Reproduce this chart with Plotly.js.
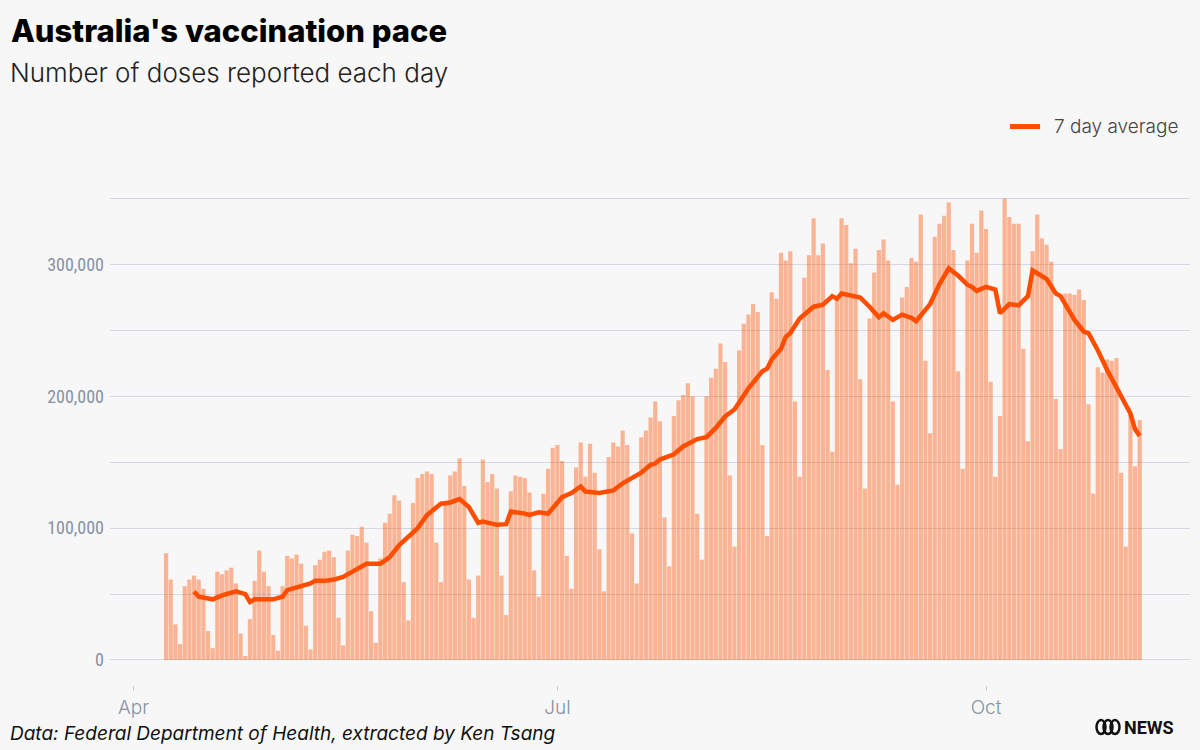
<!DOCTYPE html>
<html>
<head>
<meta charset="utf-8">
<script src="https://cdn.plot.ly/plotly-3.0.1.min.js"></script>
<style>
html,body{margin:0;padding:0;background:#f7f7f7;}
#chart{width:1200px;height:750px;}
</style>
</head>
<body>
<div id="chart"></div>
<script>
// First reported day of the series (index 0)
const firstDay = [2021, 3, 8]; // 8 April 2021 (month is 0-based)

// Daily doses reported, one per day from 8 April 2021
const dailyDoses = [
  81000, 61000, 27000, 12000, 56000, 61000, 64000, 61000, 54000, 22000,
  9000, 67000, 65000, 68000, 70000, 58000, 20000, 3000, 31000, 60000,
  83000, 67000, 56000, 19000, 7000, 56000, 79000, 77000, 80000, 73000,
  26000, 8000, 72000, 76000, 82000, 83000, 78000, 32000, 11000, 83000,
  95000, 94000, 101000, 89000, 37000, 13000, 77000, 104000, 111000, 125000,
  121000, 59000, 30000, 119000, 138000, 141000, 143000, 141000, 89000, 59000,
  120000, 140000, 143000, 153000, 132000, 61000, 32000, 64000, 152000, 135000,
  141000, 130000, 64000, 34000, 128000, 140000, 139000, 138000, 127000, 68000,
  48000, 126000, 145000, 161000, 163000, 151000, 79000, 54000, 146000, 165000,
  139000, 164000, 142000, 84000, 52000, 154000, 165000, 162000, 174000, 163000,
  96000, 58000, 169000, 174000, 184000, 196000, 181000, 108000, 71000, 185000,
  197000, 201000, 210000, 200000, 111000, 76000, 200000, 214000, 221000, 240000,
  226000, 140000, 86000, 235000, 255000, 262000, 270000, 264000, 163000, 94000,
  279000, 274000, 309000, 303000, 310000, 196000, 139000, 290000, 307000, 335000,
  307000, 316000, 220000, 158000, 275000, 335000, 330000, 301000, 312000, 213000,
  130000, 259000, 294000, 311000, 319000, 303000, 196000, 133000, 275000, 283000,
  305000, 302000, 338000, 227000, 172000, 321000, 331000, 337000, 347000, 311000,
  219000, 145000, 303000, 331000, 309000, 341000, 327000, 211000, 139000, 185000,
  350000, 336000, 331000, 331000, 236000, 166000, 310000, 338000, 320000, 315000,
  302000, 198000, 160000, 278000, 278000, 277000, 281000, 273000, 194000, 126000,
  222000, 218000, 228000, 227000, 229000, 142000, 86000, 187000, 147000, 182000
];

// 7 day average at these day indexes
const avgDayIndex = [
  6, 7, 10, 12, 15, 17, 18, 19, 23, 25, 26, 29, 31, 32, 34, 36, 38, 40, 43, 46,
  48, 50, 53, 54, 56, 59, 61, 63, 65, 67, 68, 71, 73, 74, 77, 78, 80, 82, 85, 87,
  89, 90, 93, 96, 98, 100, 102, 104, 105, 106, 109, 111, 114, 116, 118, 120, 122, 125, 128, 129,
  130, 132, 133, 134, 136, 139, 141, 143, 144, 145, 149, 151, 153, 154, 156, 158, 160, 161, 164, 166,
  168, 170, 172, 173, 174, 176, 178, 179, 181, 183, 185, 186, 189, 191, 192, 195, 197, 198, 200, 202,
  205, 207, 208, 209
];
const avgValues = [
  52000, 48000, 46000, 49000, 52000, 50000, 44000, 46000, 46000, 48000, 53000, 56000, 58000, 60000, 60000, 61000, 63000, 67000, 73000, 73000,
  78000, 87000, 97000, 100000, 110000, 118500, 119500, 122000, 116000, 104000, 105000, 102500, 103000, 112600, 111000, 110000, 112000, 111000, 123500, 126600,
  131600, 127800, 126600, 128600, 134000, 138000, 142000, 148000, 149000, 152000, 156000, 162000, 167600, 169000, 176000, 184700, 190000, 206000, 219000, 221000,
  228000, 236000, 245000, 248000, 259000, 268000, 269500, 276000, 274000, 278000, 275000, 268000, 260000, 263000, 258000, 262000, 259500, 257000, 270000, 285000,
  297000, 291600, 284700, 283000, 280000, 283000, 281000, 263000, 270000, 269000, 276000, 295600, 289000, 278000, 276000, 258000, 249000, 248000, 235000, 220000,
  200000, 187000, 175000, 170000
];

// Axis ticks
const yTickVals = [0, 100000, 200000, 300000];
const yTickText = ['0', '100,000', '200,000', '300,000'];
const xTickVals = ['2021-04-01', '2021-07-01', '2021-10-01'];
const xTickText = ['Apr', 'Jul', 'Oct'];
const legendLabel = '7 day average';

function dayToDate(i) {
  const d = new Date(Date.UTC(firstDay[0], firstDay[1], firstDay[2] + i));
  return d.toISOString().slice(0, 10);
}
const barDates = dailyDoses.map((_, i) => dayToDate(i));
const avgDates = avgDayIndex.map(dayToDate);

const W = 1200, H = 750;
const L = 110, R = 10, T = 192.4, B = 65;
const pw = W - L - R, ph = H - T - B;
const px = x => (x - L) / pw;
const py = y => (H - B - y) / ph;

const axisGrey = '#8791a5';
const gridCol = '#d2d9e2';
const lineCol = '#ff4d00';
const narrow = "'Liberation Sans Narrow', 'Roboto Condensed', 'Arial Narrow', 'DejaVu Sans Condensed', sans-serif";

const traces = [
  {
    type: 'bar',
    x: barDates,
    y: dailyDoses,
    marker: {color: 'rgba(255,80,0,0.4)', line: {width: 0}},
    showlegend: false,
    hoverinfo: 'x+y'
  },
  {
    type: 'scatter',
    mode: 'lines',
    name: legendLabel,
    x: avgDates,
    y: avgValues,
    line: {color: lineCol, width: 4.5, shape: 'linear'},
    showlegend: false
  }
];

const logoShapes = [1101, 1108, 1115].map(cx => ({
  type: 'circle', xref: 'paper', yref: 'paper',
  x0: px(cx - 4.5), x1: px(cx + 4.5), y0: py(734), y1: py(720),
  line: {color: '#111', width: 2.5}
}));
const legendShape = {
  type: 'line', xref: 'paper', yref: 'paper',
  x0: px(1010), x1: px(1040), y0: py(127), y1: py(127),
  line: {color: lineCol, width: 5}
};

const layout = {
  width: W, height: H,
  paper_bgcolor: '#f7f7f7',
  plot_bgcolor: '#f7f7f7',
  margin: {l: L, r: R, t: T, b: B, pad: 0},
  bargap: 0.1,
  showlegend: false,
  font: {family: 'Inter, Roboto, sans-serif', color: axisGrey},
  xaxis: {
    type: 'date',
    range: ['2021-03-26 23:00', '2021-11-13 19:00'],
    tickvals: xTickVals,
    ticktext: xTickText,
    ticks: 'outside',
    ticklen: 5,
    tickcolor: '#c5ccd6',
    tickfont: {size: 19, color: axisGrey, family: 'Inter, sans-serif', weight: 300},
    showgrid: false,
    showline: false,
    zeroline: false
  },
  yaxis: {
    range: [-19000, 355000],
    tickvals: yTickVals,
    ticktext: yTickText,
    ticks: '',
    ticklabelstandoff: 5,
    tickfont: {size: 18, color: axisGrey, family: narrow},
    showgrid: true,
    gridcolor: gridCol,
    gridwidth: 1,
    zeroline: true,
    zerolinecolor: gridCol,
    zerolinewidth: 1,
    showline: false,
    minor: {tick0: 0, dtick: 50000, showgrid: true, gridcolor: gridCol, gridwidth: 1, ticks: ''}
  },
  shapes: logoShapes.concat([legendShape]),
  annotations: [
    {
      xref: 'paper', yref: 'paper', x: px(9), y: py(31), xanchor: 'left', yanchor: 'middle',
      text: "Australia's vaccination pace", showarrow: false,
      font: {size: 31, color: '#000', family: 'Inter, sans-serif', weight: 800}
    },
    {
      xref: 'paper', yref: 'paper', x: px(8), y: py(73), xanchor: 'left', yanchor: 'middle',
      text: 'Number of doses reported each day', showarrow: false,
      font: {size: 26, color: '#222', family: 'Inter, sans-serif', weight: 300}
    },
    {
      xref: 'paper', yref: 'paper', x: px(1052), y: py(127), xanchor: 'left', yanchor: 'middle',
      text: legendLabel, showarrow: false,
      font: {size: 19, color: '#444', family: 'Inter, sans-serif', weight: 300}
    },
    {
      xref: 'paper', yref: 'paper', x: px(8), y: py(733), xanchor: 'left', yanchor: 'middle',
      text: '<i>Data: Federal Department of Health, extracted by Ken Tsang</i>', showarrow: false,
      font: {size: 19, color: '#111', family: 'Inter, sans-serif'}
    },
    {
      xref: 'paper', yref: 'paper', x: px(1122), y: py(727), xanchor: 'left', yanchor: 'middle',
      text: '<b>NEWS</b>', showarrow: false,
      font: {size: 18, color: '#111', family: 'Roboto, sans-serif'}
    }
  ]
};

Plotly.newPlot('chart', traces, layout, {displayModeBar: false, staticPlot: true});
</script>
</body>
</html>
